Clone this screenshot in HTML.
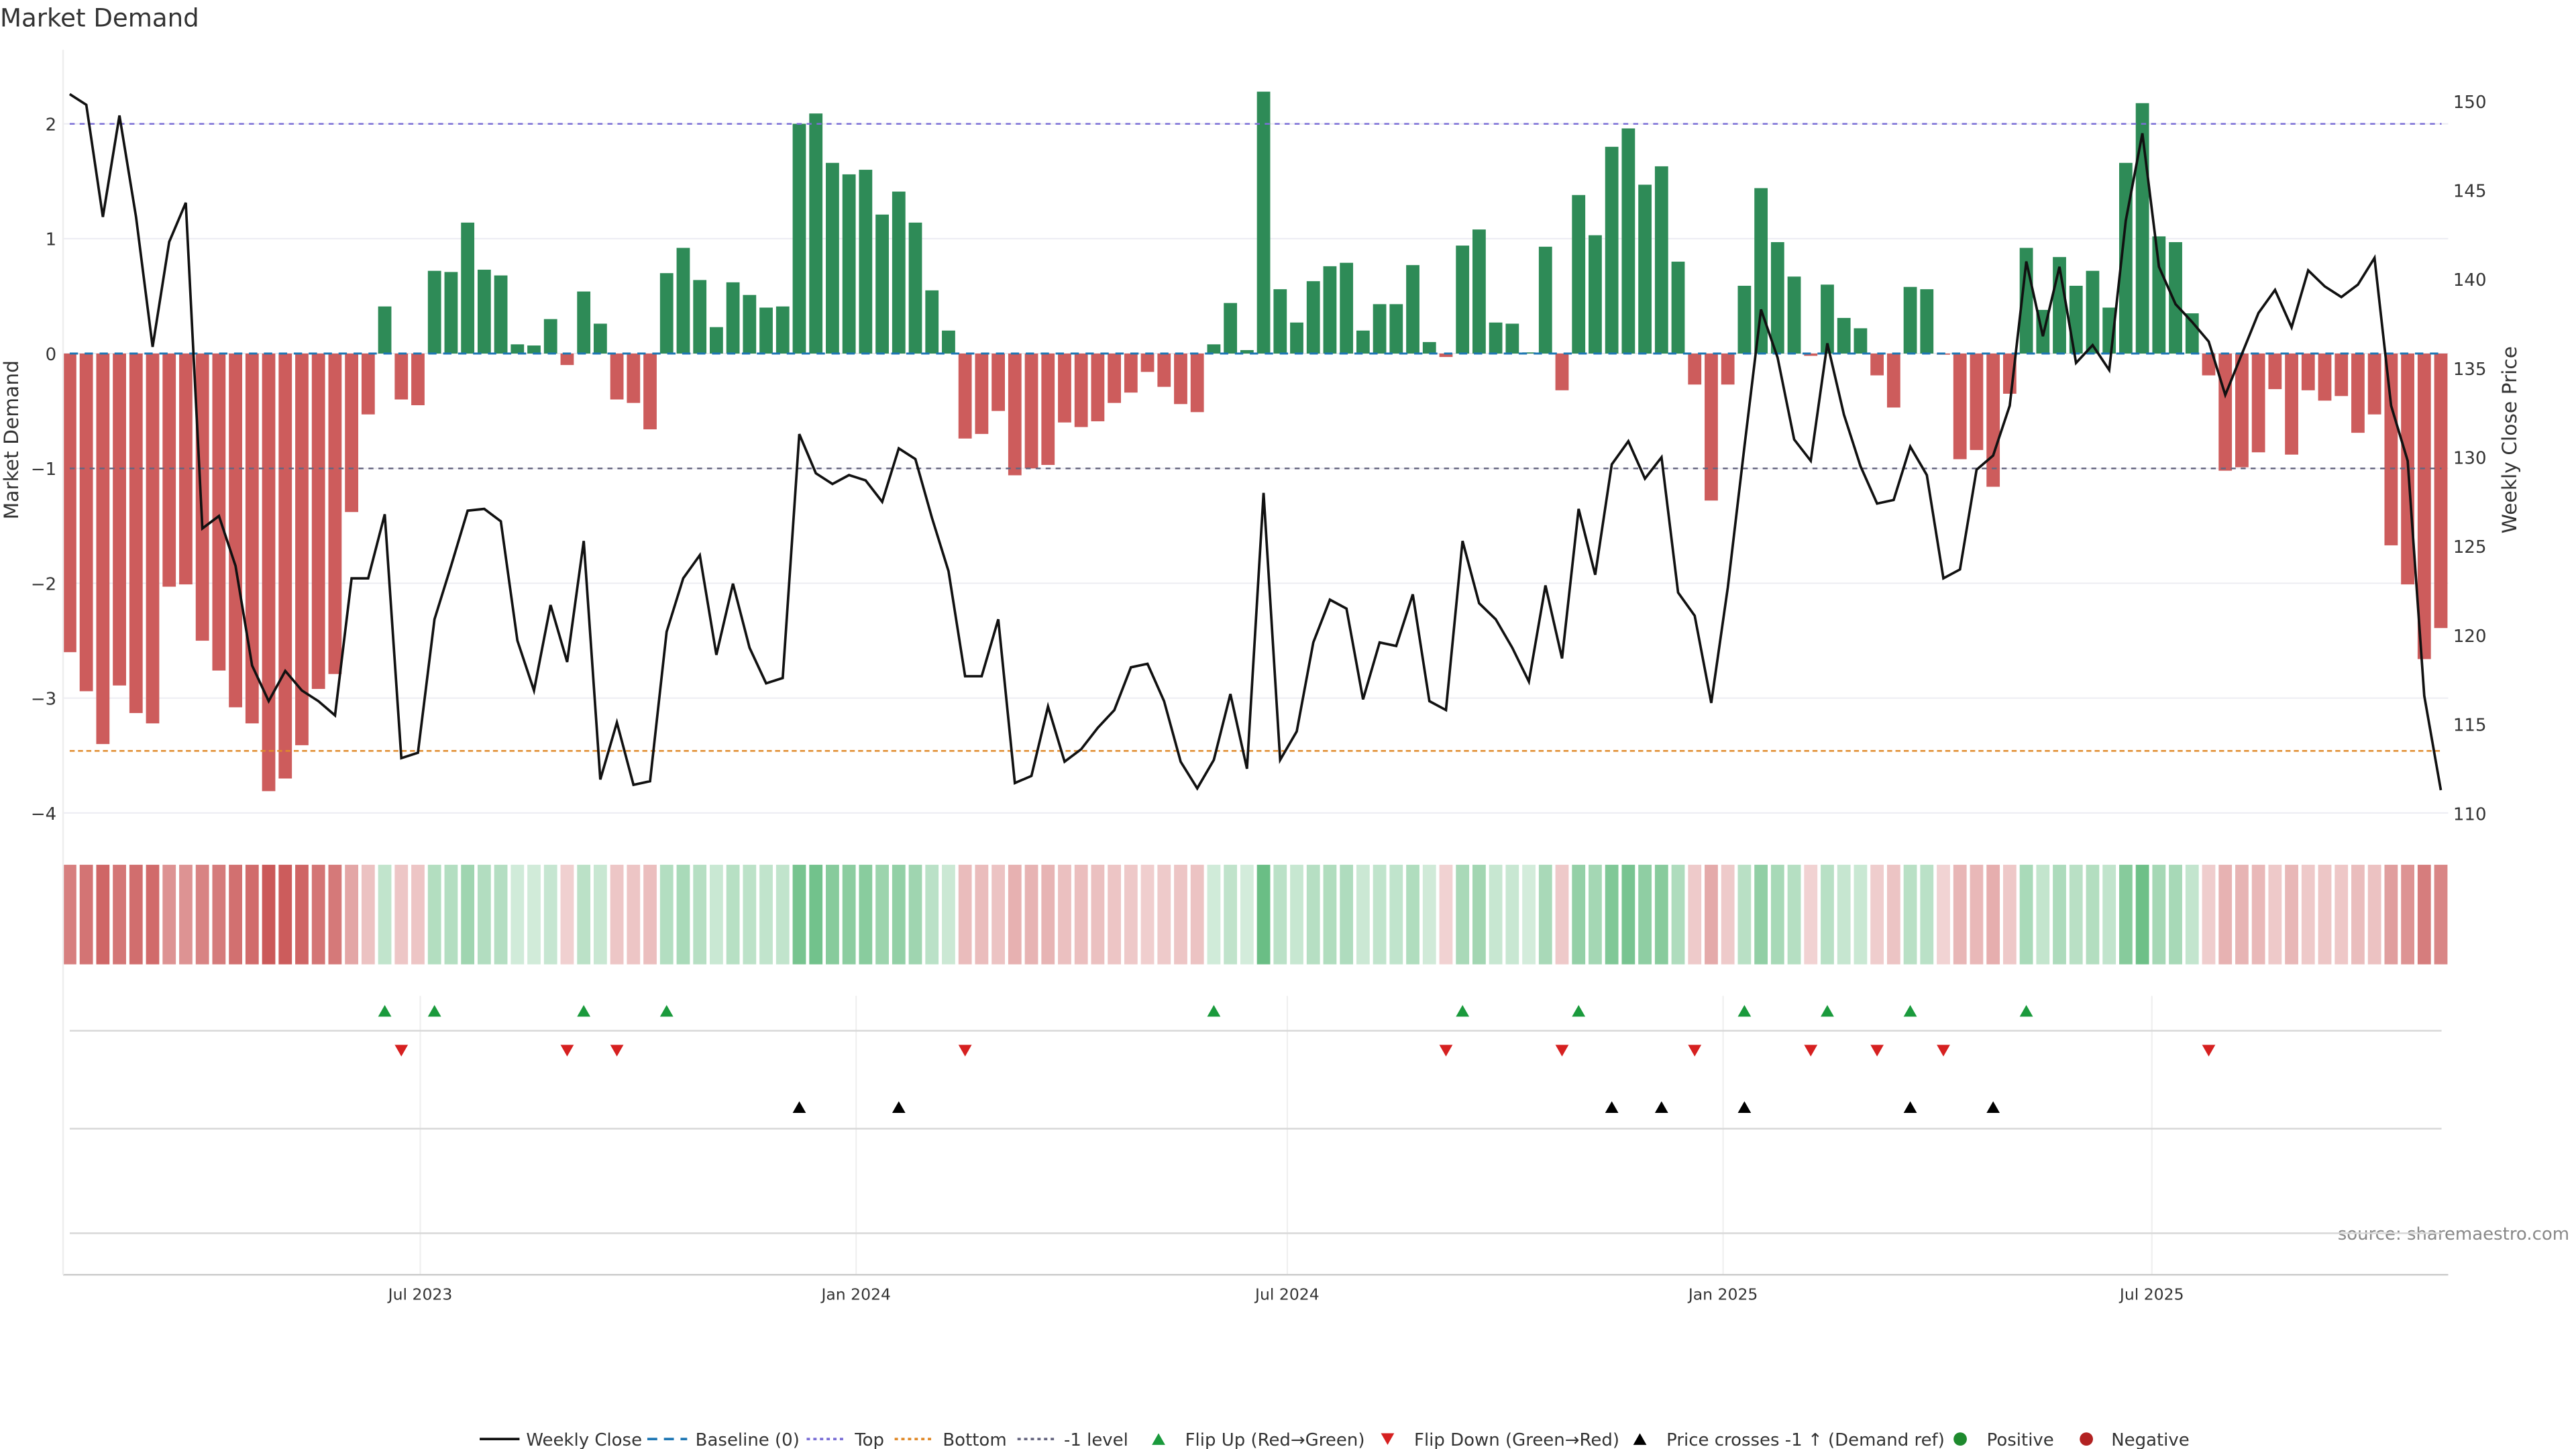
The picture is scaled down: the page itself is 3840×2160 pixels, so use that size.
<!DOCTYPE html>
<html><head><meta charset="utf-8"><title>Market Demand</title>
<style>
html,body{margin:0;padding:0;background:#fff;}
svg{display:block;font-family:"DejaVu Sans","Liberation Sans",sans-serif;}
</style></head>
<body>
<svg id="chart" width="3840" height="2160" viewBox="0 0 1552 873" xmlns="http://www.w3.org/2000/svg">
<rect x="0" y="0" width="1552" height="873" fill="#fff"/>
<text x="0" y="16" font-size="15" fill="#333">Market Demand</text>
<text transform="translate(11,265) rotate(-90)" text-anchor="middle" font-size="12" fill="#333">Market Demand</text>
<text transform="translate(1516,265) rotate(-90)" text-anchor="middle" font-size="12" fill="#333">Weekly Close Price</text>
<text x="1548" y="747" text-anchor="end" font-size="10.5" fill="#888">source: sharemaestro.com</text>
<g id="grid"></g><g id="bars"></g><g id="refs"></g><g id="price"></g><g id="heat"></g><g id="lower"></g><g id="axes"></g><g id="legend"></g>
</svg>
<script>
const demand = [-2.60,-2.94,-3.40,-2.89,-3.13,-3.22,-2.03,-2.01,-2.50,-2.76,-3.08,-3.22,-3.81,-3.70,-3.41,-2.92,-2.79,-1.38,-0.53,0.41,
-0.40,-0.45,0.72,0.71,1.14,0.73,0.68,0.08,0.07,0.30,-0.10,0.54,0.26,-0.40,-0.43,-0.66,0.70,0.92,0.64,0.23,
0.62,0.51,0.40,0.41,2.00,2.09,1.66,1.56,1.60,1.21,1.41,1.14,0.55,0.20,-0.74,-0.70,-0.50,-1.06,-1.00,-0.97,
-0.60,-0.64,-0.59,-0.43,-0.34,-0.16,-0.29,-0.44,-0.51,0.08,0.44,0.03,2.28,0.56,0.27,0.63,0.76,0.79,0.20,0.43,
0.43,0.77,0.10,-0.03,0.94,1.08,0.27,0.26,0.01,0.93,-0.32,1.38,1.03,1.80,1.96,1.47,1.63,0.80,-0.27,-1.28,
-0.27,0.59,1.44,0.97,0.67,-0.02,0.60,0.31,0.22,-0.19,-0.47,0.58,0.56,-0.01,-0.92,-0.84,-1.16,-0.35,0.92,0.38,
0.84,0.59,0.72,0.40,1.66,2.18,1.02,0.97,0.35,-0.19,-1.02,-0.99,-0.86,-0.31,-0.88,-0.32,-0.41,-0.37,-0.69,-0.53,
-1.67,-2.01,-2.66,-2.39];
const closes = [150.4,149.8,143.5,149.2,143.5,136.2,142.1,144.3,126.0,126.7,123.9,118.3,116.3,118.0,116.9,116.3,115.5,123.2,123.2,126.8,
113.1,113.4,120.9,123.9,127.0,127.1,126.4,119.7,116.9,121.7,118.5,125.3,111.9,115.1,111.6,111.8,120.2,123.2,124.5,118.9,
122.9,119.3,117.3,117.6,131.3,129.1,128.5,129.0,128.7,127.5,130.5,129.9,126.6,123.6,117.7,117.7,120.9,111.7,112.1,116.0,
112.9,113.6,114.8,115.8,118.2,118.4,116.3,112.9,111.4,113.0,116.7,112.5,128.0,113.0,114.6,119.6,122.0,121.5,116.4,119.6,
119.4,122.3,116.3,115.8,125.3,121.8,120.9,119.3,117.4,122.8,118.7,127.1,123.4,129.6,130.9,128.8,130.0,122.4,121.1,116.2,
122.7,130.6,138.3,135.6,131.0,129.8,136.4,132.4,129.5,127.4,127.6,130.6,129.0,123.2,123.7,129.3,130.1,132.9,141.0,136.8,
140.7,135.3,136.3,134.9,143.3,148.2,140.7,138.6,137.6,136.5,133.5,135.8,138.1,139.4,137.3,140.5,139.6,139.0,139.7,141.2,
132.9,129.8,116.6,111.3];
const leftTicks = [2,1,0,-1,-2,-3,-4];
const rightTicks = [150,145,140,135,130,125,120,115,110];
const dateTicks = ["2023-07-01","2024-01-01","2024-07-01","2025-01-01","2025-07-01"];
const dateLabels = ["Jul 2023","Jan 2024","Jul 2024","Jan 2025","Jul 2025"];
const startDate = "2023-02-03";
const topLevel = 2, minusLevel = -1, bottomLevel = -3.46;

const NS="http://www.w3.org/2000/svg";
function mk(parent,tag,attrs){const e=document.createElementNS(NS,tag);for(const k in attrs)e.setAttribute(k,attrs[k]);parent.appendChild(e);return e;}
const X0=42, DX=9.99;
function xi(i){return X0+i*DX;}
function yL(v){return 213-v*69.2;}
function yR(p){return 490-(p-110)*10.725;}
function pFromL(v){return 110+(490-yL(v))/10.725;}
function xd(s){const d=(new Date(s)-new Date(startDate))/(7*864e5);return X0+d*DX;}

const grid=document.getElementById('grid');
leftTicks.forEach(t=>{const l=mk(grid,'line',{x1:38,x2:1475,y1:yL(t),y2:yL(t),stroke:'#ececf2','stroke-width':0.8});

});
dateTicks.forEach(d=>{const l=mk(grid,'line',{x1:xd(d),x2:xd(d),y1:600,y2:768,stroke:'#eeeeee','stroke-width':0.8});

});

const bars=document.getElementById('bars');
demand.forEach((v,i)=>{const y0=yL(0),y1=yL(v);
const r=mk(bars,'rect',{x:xi(i)-4,width:8,y:Math.min(y0,y1),height:Math.max(Math.abs(y1-y0),0.3),fill:v>=0?'#2e8b57':'#cd5c5c'});

});

const refs=document.getElementById('refs');
[[0,'#1f77b4','5,4',1.2,'baseline-line'],[topLevel,'#7b6fd6','3,3',1,'top-line'],[minusLevel,'#666680','3,3',1,'minus-one-line'],[bottomLevel,'#e08a2a','3,2',1,'bottom-line']].forEach(a=>{
const l=mk(refs,'line',{x1:42,x2:1471,y1:yL(a[0]),y2:yL(a[0]),stroke:a[1],'stroke-dasharray':a[2],'stroke-width':a[3]});

});

const price=document.getElementById('price');
const pl=mk(price,'polyline',{points:closes.map((p,i)=>xi(i)+','+yR(p)).join(' '),fill:'none',stroke:'#111','stroke-width':1.5,'stroke-linejoin':'miter'});



const heat=document.getElementById('heat');
demand.forEach((v,i)=>{let c;
if(v>=0){const a=0.22+0.55*Math.min(v/2.3,1);c='rgba(60,170,95,'+a.toFixed(3)+')';}
else{const a=0.25+0.7*Math.min(-v/3.8,1);c='rgba(200,80,80,'+a.toFixed(3)+')';}
const r=mk(heat,'rect',{x:xi(i)-4,width:8,y:521,height:60,fill:c});

});

const lower=document.getElementById('lower');
[621,680,743].forEach(y=>{const l=mk(lower,'line',{x1:42,x2:1471,y1:y,y2:y,stroke:'#d8d8d8','stroke-width':1});

});
function tri(g,x,y,up,color,name){const s=4;
const pts=up?[x-s,y+3.5,x+s,y+3.5,x,y-3.5]:[x-s,y-3.5,x+s,y-3.5,x,y+3.5];
const p=mk(g,'polygon',{points:pts.join(','),fill:color});

}
const thr=pFromL(minusLevel);
for(let i=1;i<demand.length;i++){
 if(demand[i-1]<=0&&demand[i]>0)tri(lower,xi(i),609,true,'#1a9a3c','flip-up-marker');
 if(demand[i-1]>0&&demand[i]<=0)tri(lower,xi(i),633,false,'#d62020','flip-down-marker');
 if(closes[i-1]<thr&&closes[i]>=thr)tri(lower,xi(i),667,true,'#000','price-cross-marker');
}

const axes=document.getElementById('axes');
const ax=mk(axes,'line',{x1:38,x2:1475,y1:768,y2:768,stroke:'#cccccc','stroke-width':1});


const la=mk(axes,'line',{x1:38,x2:38,y1:30,y2:768,stroke:'#eeeeee','stroke-width':1});


leftTicks.forEach(t=>{const e=mk(axes,'text',{x:34,y:yL(t)+4,'text-anchor':'end','font-size':10.5,fill:'#333'});
e.textContent=(t<0?'\u2212'+(-t):String(t));

});
rightTicks.forEach(t=>{const e=mk(axes,'text',{x:1478,y:yR(t)+4,'font-size':10.5,fill:'#333'});
e.textContent=String(t);

});
dateTicks.forEach((d,k)=>{const e=mk(axes,'text',{x:xd(d),y:783,'text-anchor':'middle','font-size':9.5,fill:'#333'});
e.textContent=dateLabels[k];

});

const lg=document.getElementById('legend');
function ltext(x,s){const e=mk(lg,'text',{x:x,y:871,'font-size':10.5,fill:'#333'});e.textContent=s;

}
function lline(x,color,dash,name){const l=mk(lg,'line',{x1:x,x2:x+24,y1:867,y2:867,stroke:color,'stroke-width':1.5,'stroke-dasharray':dash});

}
lline(289,'#111','none','legend-weekly-close');ltext(317,'Weekly Close');
lline(390,'#1f77b4','6,4','legend-baseline');ltext(419,'Baseline (0)');
lline(486,'#7b6fd6','2,2','legend-top');ltext(515,'Top');
lline(539,'#e08a2a','2,2','legend-bottom');ltext(568,'Bottom');
lline(613,'#666680','2,2','legend-minus-one');ltext(641,'-1 level');
tri(lg,698,867,true,'#1a9a3c','legend-flip-up');ltext(714,'Flip Up (Red\u2192Green)');
tri(lg,836,867,false,'#d62020','legend-flip-down');ltext(852,'Flip Down (Green\u2192Red)');
tri(lg,988,867,true,'#000','legend-price-cross');ltext(1004,'Price crosses -1 \u2191 (Demand ref)');
const c1=mk(lg,'circle',{cx:1181,cy:867,r:4,fill:'#1e8a2e'});


ltext(1197,'Positive');
const c2=mk(lg,'circle',{cx:1257,cy:867,r:4,fill:'#b22222'});


ltext(1272,'Negative');
</script>
</body></html>
